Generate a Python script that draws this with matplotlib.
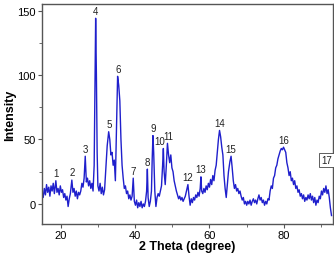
import matplotlib
matplotlib.use("Agg")
import matplotlib.pyplot as plt
from matplotlib.ticker import MultipleLocator

plt.rcParams["font.family"] = ["Liberation Sans", "DejaVu Sans"]

# XRD pattern (2theta in degree, intensity)
two_theta = [
    15.0, 15.3, 15.6, 15.9, 16.2, 16.5, 16.8, 17.1, 17.4, 17.7, 18.0, 18.3, 18.7, 19.0, 19.3, 19.6,
    19.9, 20.2, 20.5, 20.8, 21.1, 21.4, 21.7, 22.0, 22.3, 22.6, 23.0, 23.3, 23.6, 23.9, 24.2, 24.5,
    24.8, 25.1, 25.4, 25.7, 26.0, 26.3, 26.6, 26.9, 27.2, 27.5, 27.8, 28.1, 28.4, 28.7, 29.0, 29.2,
    29.4, 29.6, 29.8, 30.0, 30.3, 30.6, 30.9, 31.2, 31.5, 31.8, 32.1, 32.5, 32.9, 33.2, 33.5, 33.8,
    34.1, 34.4, 34.7, 35.0, 35.3, 35.6, 35.9, 36.2, 36.5, 36.8, 37.1, 37.4, 37.7, 38.0, 38.3, 38.6,
    38.9, 39.2, 39.5, 39.8, 40.1, 40.4, 40.7, 41.0, 41.3, 41.6, 41.9, 42.2, 42.5, 42.8, 43.1, 43.3,
    43.5, 43.8, 44.1, 44.4, 44.6, 44.8, 45.0, 45.3, 45.6, 45.9, 46.2, 46.5, 46.8, 47.1, 47.4, 47.6,
    47.8, 48.1, 48.4, 48.7, 49.0, 49.3, 49.6, 49.9, 50.2, 50.5, 50.8, 51.1, 51.4, 51.7, 52.0, 52.3,
    52.6, 52.9, 53.2, 53.5, 53.8, 54.2, 54.5, 54.8, 55.1, 55.4, 55.7, 56.0, 56.3, 56.6, 56.9, 57.2,
    57.5, 57.7, 57.9, 58.2, 58.5, 58.8, 59.1, 59.4, 59.7, 60.0, 60.3, 60.6, 60.9, 61.2, 61.5, 61.8,
    62.1, 62.4, 62.7, 63.0, 63.3, 63.6, 63.9, 64.2, 64.5, 64.8, 65.1, 65.5, 65.8, 66.1, 66.4, 66.7,
    67.0, 67.3, 67.6, 67.9, 68.2, 68.5, 68.8, 69.1, 69.4, 69.7, 70.0, 70.3, 70.6, 70.9, 71.2, 71.5,
    71.8, 72.1, 72.4, 72.7, 73.0, 73.3, 73.6, 73.9, 74.2, 74.5, 74.8, 75.1, 75.4, 75.7, 76.0, 76.3,
    76.6, 76.9, 77.2, 77.5, 77.8, 78.1, 78.4, 78.7, 79.0, 79.3, 79.6, 79.9, 80.2, 80.5, 80.8, 81.1,
    81.4, 81.7, 82.0, 82.3, 82.6, 82.9, 83.2, 83.5, 83.8, 84.1, 84.4, 84.7, 85.0, 85.3, 85.6, 85.9,
    86.2, 86.5, 86.8, 87.1, 87.4, 87.7, 88.0, 88.3, 88.6, 88.9, 89.2, 89.5, 89.8, 90.1, 90.4, 90.7,
    91.0, 91.3, 91.6, 91.9, 92.2, 92.5, 92.8,
]
intensity = [
    8, 5, 12, 7, 15, 9, 13, 6, 14, 10, 16, 8, 18, 9, 12, 7,
    14, 9, 11, 5, 8, 3, 6, -2, 4, 8, 18.5, 9, 12, 6, 10, 4,
    9, 7, 10, 16, 13, 20, 37, 17, 20, 14, 18, 12, 16, 10, 30, 90,
    144, 100, 40, 14, 10, 16, 8, 13, 7, 11, 25, 45, 56, 50, 38, 40,
    30, 34, 18, 60, 99, 92, 80, 50, 30, 20, 12, 14, 8, 10, 4, 7,
    3, 6, 20, 2, -1, 3, -3, 1, -2, 2, -3, 0, -2, 2, 10, 27,
    5, -2, 2, 10, 35, 53, 40, 10, -2, 5, 8, 6, 10, 14, 30, 43,
    25, 15, 30, 47, 38, 32, 38, 28, 25, 18, 14, 10, 7, 4, 6, 3,
    5, 2, 4, 6, 10, 15, 6, -1, 4, 1, 5, 3, 7, 5, 9, 6,
    12, 21, 10, 8, 12, 9, 14, 11, 16, 13, 19, 15, 22, 18, 26, 30,
    40, 50, 57, 52, 44, 38, 22, 12, 5, 15, 25, 33, 37, 28, 18, 12,
    15, 10, 12, 8, 10, 6, 3, 5, 0, 2, -1, 2, 0, 3, -1, 2,
    4, 1, 3, 0, 4, 7, 3, 5, 1, 3, -1, 2, 0, 4, 3, 10,
    14, 12, 20, 22, 28, 30, 35, 38, 41, 43, 42, 44, 42, 40, 32, 28,
    22, 25, 18, 20, 15, 18, 12, 14, 9, 11, 6, 8, 4, 7, 2, 5,
    3, 7, 4, 8, 3, 6, 1, 5, -1, 3, 1, 6, 4, 10, 7, 12,
    9, 14, 8, 11, 5, -3, -9,
]

# peak labels
peak_labels = [str(i) for i in range(1, 18)]
peak_x = [18.7, 23.0, 26.6, 29.4, 33.0, 35.4, 39.5, 43.3, 44.8, 46.6, 48.9, 54.2, 57.7, 62.7, 65.8, 80.0, 91.4]
peak_y = [18, 18.5, 37, 144, 56, 99, 20, 27, 53, 43, 47, 15, 21, 57, 37, 44, 30]

fig = plt.figure(figsize=(3.34, 2.55), dpi=100)
ax = fig.add_axes([0.126, 0.118, 0.871, 0.862])

ax.plot(two_theta, intensity, color="#1f1fcc", lw=1.0)

for lab, px, py in zip(peak_labels, peak_x, peak_y):
    if lab == "17":
        ax.text(px, py, lab, ha="center", va="bottom", fontsize=7, color="#222",
                bbox=dict(boxstyle="square,pad=0.2", fc="white", ec="#444", lw=0.6))
    else:
        ax.text(px, py + 2, lab, ha="center", va="bottom", fontsize=7, color="#222")

ax.set_xlim(15, 93.2)
ax.set_ylim(-15.5, 155)
ax.xaxis.set_major_locator(MultipleLocator(20))
ax.xaxis.set_minor_locator(MultipleLocator(10))
ax.yaxis.set_major_locator(MultipleLocator(50))
ax.yaxis.set_minor_locator(MultipleLocator(25))
ax.tick_params(which="both", direction="out", labelsize=8, color="#555", pad=1.5)
ax.tick_params(which="major", length=3)
ax.tick_params(which="minor", length=2)
for s in ax.spines.values():
    s.set_color("#555")
    s.set_linewidth(1.0)

ax.set_xlabel("2 Theta (degree)", fontsize=9, fontweight="bold", labelpad=0)
ax.set_ylabel("Intensity", fontsize=9, fontweight="bold", labelpad=1)

fig.savefig("out.png", dpi=100)
